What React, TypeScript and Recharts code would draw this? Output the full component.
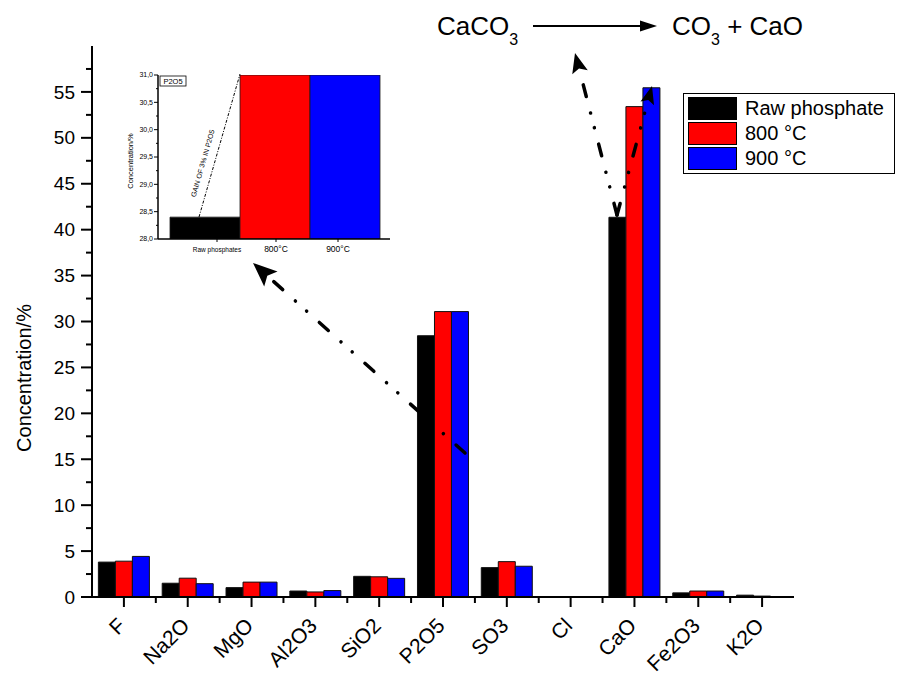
import React from 'react';
import { BarChart, Bar, XAxis, YAxis, Legend, Cell } from 'recharts';

// Chemical composition (XRF) of raw and calcined phosphate
const OXIDES = ['F', 'Na2O', 'MgO', 'Al2O3', 'SiO2', 'P2O5', 'SO3', 'Cl', 'CaO', 'Fe2O3', 'K2O'];
const RAW_PHOSPHATE = [3.8, 1.5, 1.02, 0.65, 2.25, 28.45, 3.2, 0.05, 41.35, 0.45, 0.2];
const CALCINED_800 = [3.9, 2.05, 1.62, 0.55, 2.2, 31.08, 3.85, 0.05, 53.4, 0.65, 0.1];
const CALCINED_900 = [4.42, 1.45, 1.62, 0.7, 2.03, 31.08, 3.35, 0.05, 55.45, 0.65, 0.05];
const Y_TICKS = [0, 2.5, 5, 7.5, 10, 12.5, 15, 17.5, 20, 22.5, 25, 27.5, 30, 32.5, 35, 37.5, 40, 42.5, 45, 47.5, 50, 52.5, 55, 57.5];

// inset: zoom on P2O5
const INSET_LABELS = ['Raw phosphates', '800°C', '900°C'];
const INSET_P2O5 = [28.4, 31.0, 31.0];
const INSET_TICKS = [28, 28.25, 28.5, 28.75, 29, 29.25, 29.5, 29.75, 30, 30.25, 30.5, 30.75, 31];

const FONT = '"Liberation Sans", Arial, sans-serif';

const SERIES = [
  { key: 'raw', name: 'Raw phosphate', color: '#000000' },
  { key: 't800', name: '800 °C', color: '#ff0000' },
  { key: 't900', name: '900 °C', color: '#0000ff' },
];

const data = OXIDES.map((name, i) => ({
  name,
  raw: RAW_PHOSPHATE[i],
  t800: CALCINED_800[i],
  t900: CALCINED_900[i],
}));

const insetData = INSET_LABELS.map((label, i) => ({ label, value: INSET_P2O5[i] }));

const WIDTH = 907;
const HEIGHT = 679;
const MARGIN = { top: 46, right: 113, bottom: 0, left: 0 };
const Y_AXIS_W = 92;
const X_AXIS_H = 82;
const PLOT_W = WIDTH - MARGIN.right - Y_AXIS_W;

const OxideTick = (props: any) => {
  const { x, y, payload } = props;
  const idx = OXIDES.indexOf(payload.value);
  const band = PLOT_W / OXIDES.length;
  const lx = x + 3;
  const ly = y + 30;
  return (
    <g>
      <line x1={x} y1={y} x2={x} y2={y + 10} stroke="#000" strokeWidth={2} />
      {idx < OXIDES.length - 1 && (
        <line x1={x + band / 2} y1={y} x2={x + band / 2} y2={y + 6} stroke="#000" strokeWidth={2} />
      )}
      <text
        x={lx}
        y={ly}
        transform={`rotate(-45 ${lx} ${ly})`}
        textAnchor="end"
        fontSize={21}
        fontFamily={FONT}
        fill="#000"
      >
        {payload.value}
      </text>
    </g>
  );
};

const ConcTick = (props: any) => {
  const { x, y, payload } = props;
  const major = payload.value % 5 === 0;
  return (
    <g>
      <line x1={x} y1={y} x2={x - (major ? 11 : 6)} y2={y} stroke="#000" strokeWidth={2} />
      {major && (
        <text x={x - 17} y={y} dy="0.35em" textAnchor="end" fontSize={19} fontFamily={FONT} fill="#000">
          {payload.value}
        </text>
      )}
    </g>
  );
};

const yTitle = () => (
  <text
    x={24}
    y={378}
    transform="rotate(-90 24 378)"
    textAnchor="middle"
    dy="0.35em"
    fontSize={20}
    fontFamily={FONT}
    fill="#000"
  >
    Concentration/%
  </text>
);

const LegendBox = () => (
  <div
    style={{
      width: 212,
      boxSizing: 'border-box',
      border: '1.5px solid #000',
      padding: '2px 4px',
      background: '#fff',
      fontFamily: FONT,
      fontSize: 20,
      color: '#000',
    }}
  >
    {SERIES.map((s) => (
      <div key={s.key} style={{ display: 'flex', alignItems: 'center', height: 25 }}>
        <div
          style={{
            width: 49,
            height: 23,
            background: s.color,
            border: '1px solid #000',
            boxSizing: 'border-box',
            marginRight: 8,
          }}
        />
        <span style={{ lineHeight: '25px' }}>{s.name}</span>
      </div>
    ))}
  </div>
);

// inset ticks
const INSET_LABEL_DX = [12, 1, -7];
const INSET_LABEL_SIZE = [6.5, 8.5, 8.5];

const InsetXTick = (props: any) => {
  const { x, y, payload } = props;
  const i = INSET_LABELS.indexOf(payload.value);
  const tx = x + INSET_LABEL_DX[i];
  return (
    <g>
      <line x1={tx} y1={y} x2={tx} y2={y + 3} stroke="#000" strokeWidth={1} />
      <text x={tx} y={y + 13} textAnchor="middle" fontSize={INSET_LABEL_SIZE[i]} fontFamily={FONT} fill="#000">
        {payload.value}
      </text>
    </g>
  );
};

const InsetYTick = (props: any) => {
  const { x, y, payload } = props;
  const major = Math.abs((payload.value * 2) % 1) < 1e-6;
  return (
    <g>
      <line x1={x} y1={y} x2={x - (major ? 4 : 2)} y2={y} stroke="#000" strokeWidth={1} />
      {major && (
        <text x={x - 5} y={y} dy="0.35em" textAnchor="end" fontSize={7} fontFamily={FONT} fill="#000">
          {payload.value.toFixed(1).replace('.', ',')}
        </text>
      )}
    </g>
  );
};

const insetTitle = () => (
  <text
    x={10}
    y={101}
    transform="rotate(-90 10 101)"
    textAnchor="middle"
    dy="0.35em"
    fontSize={7.5}
    fontFamily={FONT}
    fill="#000"
  >
    Concentration/%
  </text>
);

const INSET_COLORS = ['#000000', '#ff0000', '#0000ff'];

function DashArrow({ from, to, head = 22, half = 9 }: { from: number[]; to: number[]; head?: number; half?: number }) {
  const [x1, y1] = from;
  const [x2, y2] = to;
  const len = Math.hypot(x2 - x1, y2 - y1);
  const ux = (x2 - x1) / len;
  const uy = (y2 - y1) / len;
  const bx = x2 - ux * head;
  const by = y2 - uy * head;
  const px = -uy;
  const py = ux;
  const nx = x2 - ux * head * 0.8;
  const ny = y2 - uy * head * 0.8;
  return (
    <g>
      <line
        x1={x1}
        y1={y1}
        x2={nx}
        y2={ny}
        stroke="#000"
        strokeWidth={3.5}
        strokeDasharray="12 17 0.1 15 0.1 17"
        strokeLinecap="round"
      />
      <polygon
        points={`${x2},${y2} ${bx + px * half},${by + py * half} ${nx},${ny} ${bx - px * half},${by - py * half}`}
        fill="#000"
      />
    </g>
  );
}

export default function App() {
  return (
    <div style={{ position: 'relative', width: WIDTH, height: HEIGHT, margin: '-8px 0 0 -8px', background: '#fff' }}>
      <BarChart
        width={WIDTH}
        height={HEIGHT}
        data={data}
        margin={MARGIN}
        barCategoryGap="10%"
        barGap={0}
      >
        <XAxis
          dataKey="name"
          height={X_AXIS_H}
          interval={0}
          tickSize={0}
          tickMargin={0}
          tickLine={false}
          tick={<OxideTick />}
          axisLine={{ stroke: '#000', strokeWidth: 2 }}
        />
        <YAxis
          width={Y_AXIS_W}
          domain={[0, 60]}
          ticks={Y_TICKS}
          interval={0}
          tickSize={0}
          tickMargin={0}
          tickLine={false}
          tick={<ConcTick />}
          axisLine={{ stroke: '#000', strokeWidth: 2 }}
          label={yTitle}
        />
        <Legend
          layout="horizontal"
          verticalAlign="middle"
          align="center"
          content={<LegendBox />}
          wrapperStyle={{ top: 93, left: 683, width: 212 }}
        />
        {SERIES.map((s) => (
          <Bar
            key={s.key}
            dataKey={s.key}
            name={s.name}
            fill={s.color}
            stroke="#111"
            strokeWidth={1}
            isAnimationActive={false}
          />
        ))}
      </BarChart>

      {/* inset: P2O5 gain */}
      <div style={{ position: 'absolute', left: 120, top: 60 }}>
        <BarChart
          width={275}
          height={200}
          data={insetData}
          margin={{ top: 15, right: 5, bottom: 0, left: 0 }}
          barCategoryGap={0}
        >
          <XAxis
            dataKey="label"
            height={21}
            interval={0}
            padding={{ left: 12, right: 10 }}
            tickSize={0}
            tickMargin={0}
            tickLine={false}
            tick={<InsetXTick />}
            axisLine={{ stroke: '#000', strokeWidth: 1.5 }}
          />
          <YAxis
            width={38}
            domain={[28, 31]}
            allowDataOverflow
            ticks={INSET_TICKS}
            interval={0}
            tickSize={0}
            tickMargin={0}
            tickLine={false}
            tick={<InsetYTick />}
            axisLine={{ stroke: '#000', strokeWidth: 1.5 }}
            label={insetTitle}
          />
          <Bar dataKey="value" stroke="#1a1a1a" strokeWidth={0.8} isAnimationActive={false}>
            {insetData.map((d, i) => (
              <Cell key={d.label} fill={INSET_COLORS[i]} />
            ))}
          </Bar>
        </BarChart>
      </div>

      {/* annotations */}
      <svg
        width={WIDTH}
        height={HEIGHT}
        style={{ position: 'absolute', left: 0, top: 0, pointerEvents: 'none' }}
        fontFamily={FONT}
      >
        {/* reaction */}
        <text x={437} y={35} fontSize={26} fill="#000">
          CaCO<tspan fontSize={16} dy={10}>3</tspan>
        </text>
        <line x1={533} y1={26} x2={644} y2={26} stroke="#000" strokeWidth={2} />
        <polygon points="657,26 640,20.5 640,31.5" fill="#000" />
        <text x={672} y={35} fontSize={26} fill="#000">
          CO<tspan fontSize={16} dy={10}>3</tspan>
          <tspan dy={-10}> + CaO</tspan>
        </text>

        {/* inset decorations */}
        <rect x={160} y={76} width={26} height={10} fill="#fff" stroke="#000" strokeWidth={0.8} />
        <text x={173} y={84} fontSize={7.5} textAnchor="middle" fill="#000">P2O5</text>
        <line x1={199} y1={217} x2={240} y2={74} stroke="#000" strokeWidth={1} strokeDasharray="3 1.5 1 1.5" />
        <text
          x={205}
          y={164}
          transform="rotate(-74 205 164)"
          textAnchor="middle"
          fontSize={7}
          fill="#000"
        >
          GAIN OF 3% IN P2O5
        </text>

        {/* arrows */}
        <DashArrow from={[465, 453]} to={[253, 263]} head={24} half={10} />
        <DashArrow from={[617, 215]} to={[575, 53]} head={20} half={8} />
        <DashArrow from={[617, 215]} to={[652, 86]} head={18} half={7} />
      </svg>
    </div>
  );
}
